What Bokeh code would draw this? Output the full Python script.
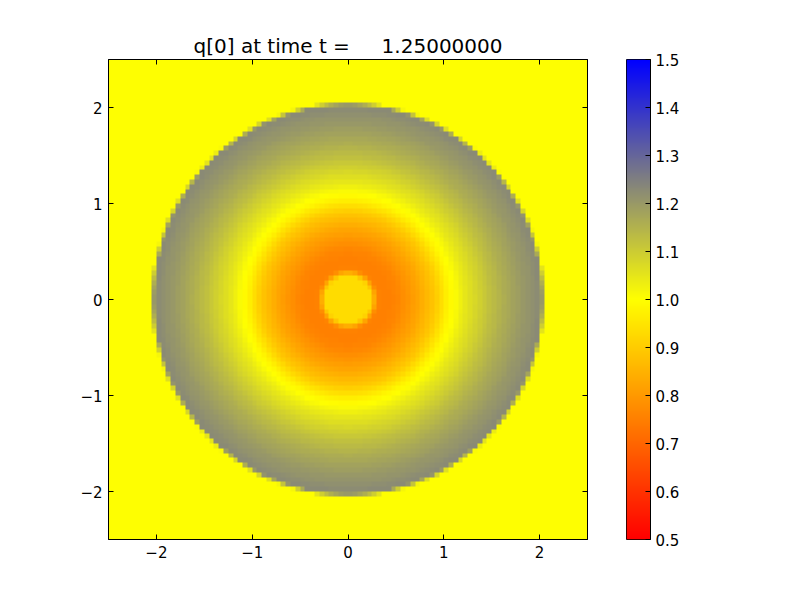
import numpy as np
from bokeh.plotting import figure
from bokeh.models import (LinearColorMapper, LinearAxis, FixedTicker,
                          CustomJSTickFormatter, Range1d, PrintfTickFormatter)
from bokeh.layouts import row
from bokeh.embed import file_html
from bokeh.resources import INLINE

# ---------------- data ----------------
title_text = "q[0] at time t =\u00a0\u00a0\u00a0\u00a0\u00a01.25000000"
x_ticks = [-2, -1, 0, 1, 2]
y_ticks = [-2, -1, 0, 1, 2]
tick_labels = {-2: "\u22122", -1: "\u22121", 0: "0", 1: "1", 2: "2"}
cbar_ticks = [0.5, 0.6, 0.7, 0.8, 0.9, 1.0, 1.1, 1.2, 1.3, 1.4, 1.5]
domain_lo, domain_hi = -2.5, 2.5
n_cells = 100
q_min, q_max = 0.5, 1.5

# radial profile of q (radius, value)
profile_r = [0.00, 0.05, 0.10, 0.15, 0.20, 0.24, 0.31, 0.35, 0.40, 0.45,
             0.50, 0.55, 0.60, 0.65, 0.70, 0.75, 0.80, 0.85, 0.90, 0.95,
             1.00, 1.05, 1.10, 1.15, 1.20, 1.25, 1.30, 1.35, 1.40, 1.45,
             1.50, 1.55, 1.60, 1.65, 1.70, 1.75, 1.80, 1.85, 1.90, 1.95,
             2.00, 2.02, 2.06, 3.60]
profile_q = [0.93, 0.93, 0.93, 0.93, 0.93, 0.93, 0.76, 0.75, 0.75, 0.755,
             0.76, 0.77, 0.785, 0.80, 0.815, 0.83, 0.85, 0.87, 0.89, 0.92,
             0.95, 0.98, 1.00, 1.02, 1.04, 1.055, 1.07, 1.085, 1.10, 1.115,
             1.13, 1.14, 1.155, 1.165, 1.175, 1.185, 1.195, 1.205, 1.21, 1.22,
             1.23, 1.23, 1.00, 1.00]

# ---------------- colour map (red -> yellow -> blue) ----------------
def cmap(v):
    t = (v - q_min) / (q_max - q_min)
    if t <= 0.5:
        r, g, b = 1.0, 2 * t, 0.0
    else:
        s = 2 * (t - 0.5)
        r, g, b = 1 - s, 1 - s, s
    return "#%02x%02x%02x" % (int(round(r * 255)), int(round(g * 255)), int(round(b * 255)))

palette = [cmap(q_min + (q_max - q_min) * i / 255) for i in range(256)]
mapper = LinearColorMapper(palette=palette, low=q_min, high=q_max)

# ---------------- field on the grid ----------------
dx = (domain_hi - domain_lo) / n_cells
centers = domain_lo + dx * (np.arange(n_cells) + 0.5)
X, Y = np.meshgrid(centers, centers)
R = np.sqrt(X ** 2 + Y ** 2)
Q = np.interp(R, profile_r, profile_q)

FONT = "DejaVu Sans"

p = figure(output_backend="svg", toolbar_location=None,
           frame_width=479, frame_height=480,
           min_border_left=108, min_border_right=31,
           min_border_top=59, min_border_bottom=61,
           x_range=Range1d(domain_lo, domain_hi), y_range=Range1d(domain_lo, domain_hi),
           title=title_text)
p.image(image=[Q], x=domain_lo, y=domain_lo, dw=domain_hi - domain_lo,
        dh=domain_hi - domain_lo, color_mapper=mapper)

p.title.text_font = FONT
p.title.text_font_size = "20px"
p.title.text_font_style = "normal"
p.title.align = "center"
p.title.text_color = "black"
p.title.standoff = 4

p.grid.visible = False
p.outline_line_color = "black"
p.outline_line_width = 1
p.background_fill_color = "white"
p.border_fill_color = "white"

def style_axis(ax, labels=True):
    ax.ticker = FixedTicker(ticks=x_ticks)
    ax.major_tick_in = 5
    ax.major_tick_out = 0
    ax.minor_tick_line_color = None
    ax.axis_line_color = "black"
    ax.major_tick_line_color = "black"
    ax.major_label_text_font = FONT
    ax.major_label_text_font_size = "15px"
    ax.major_label_text_color = "black"
    ax.major_label_standoff = 6
    if labels:
        ax.major_label_overrides = tick_labels
    else:
        ax.formatter = CustomJSTickFormatter(code="return ''")
        ax.major_label_text_font_size = "0px"
        ax.major_label_standoff = 0

style_axis(p.xaxis[0])
style_axis(p.yaxis[0])
top_ax = LinearAxis()
right_ax = LinearAxis()
style_axis(top_ax, labels=False)
style_axis(right_ax, labels=False)
p.add_layout(top_ax, "above")
p.add_layout(right_ax, "right")

# ---------------- colour bar ----------------
cb_vals = np.linspace(q_min, q_max, 256).reshape(256, 1)
c = figure(output_backend="svg", toolbar_location=None,
           frame_width=24, frame_height=480,
           min_border_left=8, min_border_right=150,
           min_border_top=59, min_border_bottom=61,
           x_range=Range1d(0, 1), y_range=Range1d(q_min, q_max),
           y_axis_location="right")
c.image(image=[cb_vals], x=0, y=q_min, dw=1, dh=q_max - q_min, color_mapper=mapper)
c.grid.visible = False
c.xaxis.visible = False
c.outline_line_color = "black"
c.background_fill_color = "white"
c.border_fill_color = "white"
ya = c.yaxis[0]
ya.ticker = FixedTicker(ticks=cbar_ticks)
ya.formatter = PrintfTickFormatter(format="%.1f")
ya.major_tick_in = 5
ya.major_tick_out = 0
ya.minor_tick_line_color = None
ya.axis_line_color = "black"
ya.major_label_text_font = FONT
ya.major_label_text_font_size = "15px"
ya.major_label_text_color = "black"
ya.major_label_standoff = 5

layout = row(p, c)
open("out.html", "w").write(file_html(layout, INLINE))
